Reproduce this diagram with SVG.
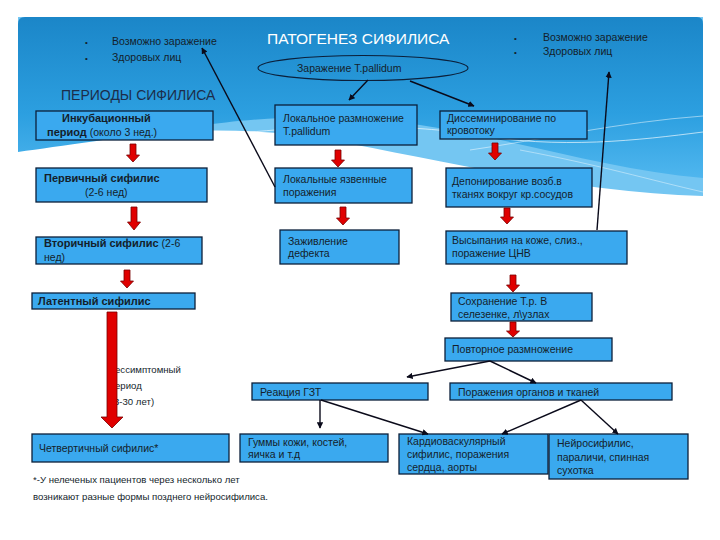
<svg xmlns="http://www.w3.org/2000/svg" width="720" height="540" viewBox="0 0 720 540">
<style>
text{font-family:"Liberation Sans",Arial,sans-serif;fill:#141e2b;font-size:10.5px}
.b{font-weight:bold;font-size:11px}
.box{fill:#3aa9ef;stroke:#0b1f3a;stroke-width:1.3}
.ra{fill:#e00000;stroke:#7a0000;stroke-width:0.8}
.ln{stroke:#0a0a1a;stroke-width:1.4;fill:none;marker-end:url(#ah)}
.sm{font-size:9.6px}
</style>
<defs>
<linearGradient id="bg" x1="0" y1="0" x2="0" y2="1">
<stop offset="0" stop-color="#1b86c8"/>
<stop offset="0.6" stop-color="#2c9fe0"/>
<stop offset="1" stop-color="#4fb6ee"/>
</linearGradient>
<marker id="ah" viewBox="0 0 10 10" refX="9" refY="5" markerWidth="4.5" markerHeight="4.5" orient="auto">
<path d="M0,0 L10,5 L0,10 Z" fill="#0a0a1a"/>
</marker>
</defs>
<rect width="720" height="540" fill="#ffffff"/>
<g id="background">
<path d="M18,150 C120,132 230,122 330,140 C440,160 570,192 703,196 V17 H18 Z" fill="#74c6f2"/>
<path d="M18,24 Q18,17 25,17 H697 Q703,17 703,24 V178 C610,170 520,140 420,125 C330,112 250,118 200,126 C120,138 60,146 18,152 Z" fill="url(#bg)"/>
<path d="M214,136 C330,122 420,126 470,134 C560,150 640,140 703,132" stroke="#ffffff" stroke-width="0.8" fill="none" opacity="0.8"/>
<path d="M470,150 C540,140 620,122 703,116" stroke="#ffffff" stroke-width="0.7" fill="none" opacity="0.7"/>
<path d="M520,150 C600,165 650,180 703,192" stroke="#ffffff" stroke-width="0.7" fill="none" opacity="0.6"/>
</g>
<g id="title">
<text x="267" y="44" style="font-size:15.5px;fill:#ffffff">ПАТОГЕНЕЗ СИФИЛИСА</text>
</g>
<g id="bullets-left">
<text x="85" y="45" style="font-size:8px">•</text>
<text x="85" y="61" style="font-size:8px">•</text>
<text x="112" y="45">Возможно заражение</text>
<text x="112" y="61">Здоровых лиц</text>
</g>
<g id="bullets-right">
<text x="514" y="41" style="font-size:8px">•</text>
<text x="514" y="55" style="font-size:8px">•</text>
<text x="543" y="41">Возможно заражение</text>
<text x="543" y="55">Здоровых лиц</text>
</g>
<g id="infection">
<ellipse cx="363" cy="68" rx="105" ry="12.5" fill="none" stroke="#0b1f3a" stroke-width="1.1"/>
<text x="297" y="72">Заражение T.pallidum</text>
</g>
<g id="periods-title">
<text x="61" y="100" style="font-size:14px;fill:#1c2d4a">ПЕРИОДЫ СИФИЛИСА</text>
</g>
<g id="incubation">
<rect class="box" x="36" y="111" width="177" height="29"/>
<text x="62" y="122" class="b">Инкубационный</text>
<text x="47" y="136"><tspan class="b">период</tspan> (около 3 нед.)</text>
</g>
<g id="primary">
<rect class="box" x="36" y="168" width="171" height="34"/>
<text x="44" y="182" class="b">Первичный сифилис</text>
<text x="85" y="196">(2-6 нед)</text>
</g>
<g id="secondary">
<rect class="box" x="36" y="237" width="166" height="27"/>
<text x="44" y="247"><tspan class="b">Вторичный сифилис</tspan> (2-6</text>
<text x="44" y="261">нед)</text>
</g>
<g id="latent">
<rect class="box" x="32" y="293" width="163" height="16"/>
<text x="38" y="305" class="b">Латентный сифилис</text>
</g>
<g id="asymptomatic">
<text x="115" y="373" class="sm">ессимптомный</text>
<text x="115" y="389" class="sm">ериод</text>
<text x="114" y="405" class="sm">3-30 лет)</text>
</g>
<g id="quaternary">
<rect class="box" x="32" y="434" width="197" height="28"/>
<text x="39" y="452">Четвертичный сифилис*</text>
</g>
<g id="footnote">
<text x="33" y="483" class="sm">*-У нелеченых пациентов через несколько лет</text>
<text x="33" y="500" class="sm">возникают разные формы позднего нейросифилиса.</text>
</g>
<g id="local-multiplication">
<rect class="box" x="275" y="105" width="142" height="40"/>
<text x="283" y="122">Локальное размножение</text>
<text x="283" y="135">T.pallidum</text>
</g>
<g id="ulcers">
<rect class="box" x="275" y="168" width="137" height="35"/>
<text x="283" y="183">Локальные язвенные</text>
<text x="283" y="196">поражения</text>
</g>
<g id="healing">
<rect class="box" x="280" y="230" width="119" height="34"/>
<text x="288" y="245">Заживление</text>
<text x="288" y="257">дефекта</text>
</g>
<g id="dissemination">
<rect class="box" x="440" y="111" width="147" height="28"/>
<text x="447" y="122">Диссеминирование по</text>
<text x="447" y="134">кровотоку</text>
</g>
<g id="deposition">
<rect class="box" x="446" y="168" width="146" height="39"/>
<text x="452" y="185">Депонирование возб.в</text>
<text x="452" y="198">тканях вокруг кр.сосудов</text>
</g>
<g id="rash">
<rect class="box" x="446" y="231" width="181" height="33"/>
<text x="452" y="244">Высыпания на коже, слиз.,</text>
<text x="452" y="257">поражение ЦНВ</text>
</g>
<g id="persistence">
<rect class="box" x="451" y="293" width="141" height="28"/>
<text x="458" y="305">Сохранение T.p. В</text>
<text x="458" y="318">селезенке, л\узлах</text>
</g>
<g id="remultiplication">
<rect class="box" x="445" y="338" width="167" height="23"/>
<text x="452" y="353">Повторное размножение</text>
</g>
<g id="dth">
<rect class="box" x="252" y="383" width="176" height="17"/>
<text x="260" y="396">Реакция ГЗТ</text>
</g>
<g id="organs">
<rect class="box" x="450" y="383" width="222" height="17"/>
<text x="458" y="396">Поражения органов и тканей</text>
</g>
<g id="gummas">
<rect class="box" x="240" y="434" width="148" height="28"/>
<text x="248" y="446">Гуммы кожи, костей,</text>
<text x="248" y="458">яичка и т.д</text>
</g>
<g id="cardiovascular">
<rect class="box" x="399" y="434" width="149" height="40"/>
<text x="407" y="445">Кардиоваскулярный</text>
<text x="407" y="458">сифилис, поражения</text>
<text x="407" y="471">сердца, аорты</text>
</g>
<g id="neurosyphilis">
<rect class="box" x="549" y="434" width="139" height="45"/>
<text x="557" y="447">Нейросифилис,</text>
<text x="557" y="461">параличи, спинная</text>
<text x="557" y="474">сухотка</text>
</g>
<g id="connectors">
<polygon class="ra" points="130,144 136,144 136,155 139.5,155 133,162 126.5,155 130,155"/>
<polygon class="ra" points="131,207 137,207 137,222 140.5,222 134,230 127.5,222 131,222"/>
<polygon class="ra" points="124,270 130,270 130,281 133.5,281 127,288 120.5,281 124,281"/>
<polygon class="ra" points="107,312 117,312 117,417 123,417 112,428 101,417 107,417"/>
<polygon class="ra" points="335,150 341,150 341,160 344.5,160 338,167 331.5,160 335,160"/>
<polygon class="ra" points="340,207 346,207 346,218 349.5,218 343,225 336.5,218 340,218"/>
<polygon class="ra" points="492,143 498,143 498,153 501.5,153 495,160 488.5,153 492,153"/>
<polygon class="ra" points="504,208 510,208 510,217 513.5,217 507,224 500.5,217 504,217"/>
<polygon class="ra" points="510,275 516,275 516,285 519.5,285 513,292 506.5,285 510,285"/>
<polygon class="ra" points="510,322 516,322 516,331 519.5,331 513,337 506.5,331 510,331"/>
<line class="ln" x1="275" y1="187" x2="202" y2="48"/>
<line class="ln" x1="368" y1="80" x2="349" y2="100"/>
<line class="ln" x1="410" y1="81" x2="474" y2="106"/>
<line class="ln" x1="597" y1="230" x2="609" y2="72"/>
<line class="ln" x1="490" y1="361" x2="407" y2="377"/>
<line class="ln" x1="490" y1="361" x2="536" y2="383"/>
<line class="ln" x1="320" y1="400" x2="320" y2="428"/>
<line class="ln" x1="321" y1="400" x2="428" y2="434"/>
<line class="ln" x1="581" y1="400" x2="502" y2="434"/>
<line class="ln" x1="581" y1="400" x2="618" y2="434"/>
</g>
</svg>
